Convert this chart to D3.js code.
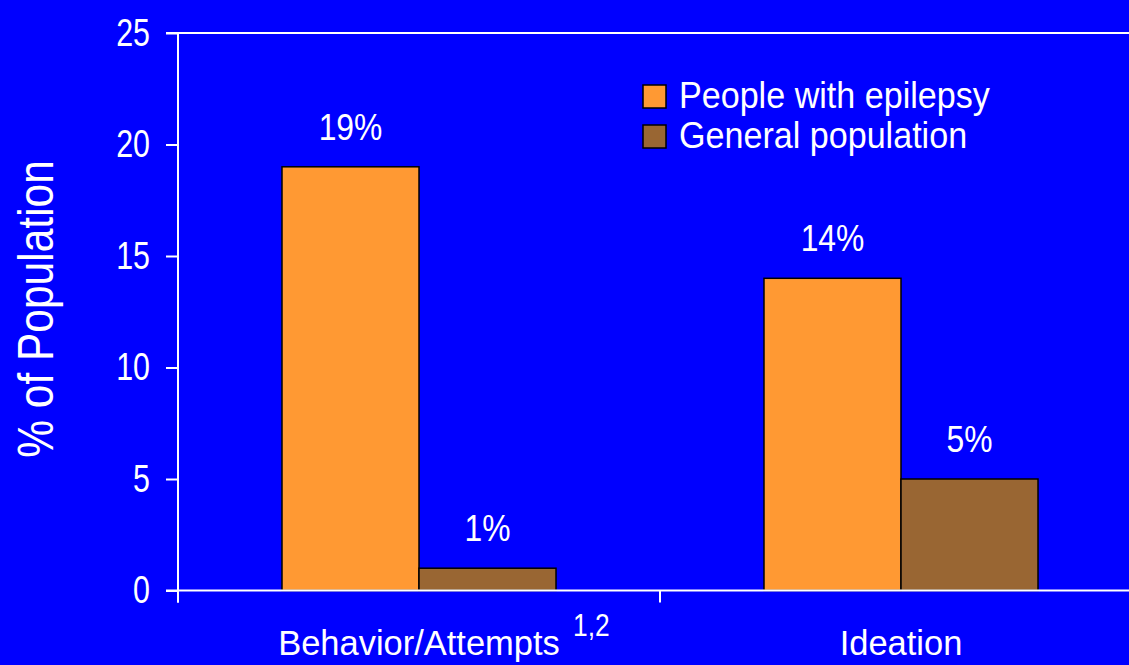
<!DOCTYPE html>
<html lang="en">
<head>
<meta charset="utf-8">
<title>suicidality in epilepsy</title>
<script src="https://cdn.jsdelivr.net/npm/d3@7"></script>
<style>
  html, body { margin: 0; padding: 0; background: #0000ff; }
  svg { display: block; }
  text { fill: #fff; font-family: "Liberation Sans", Arial, sans-serif; }
</style>
</head>
<body>
<svg id="chart" width="1129" height="665"></svg>
<script>
// data
var categories = ["Behavior/Attempts", "Ideation"];
var series = ["People with epilepsy", "General population"];
var epilepsy = [19, 14];
var general = [1, 5];
var yTicks = [0, 5, 10, 15, 20, 25];
var refs = ["1,2", ""];

var colors = ["#ff9933", "#996633"];

var W = 1129, H = 665;
var mLeft = 178, mTop = 33, mBottom = 590.5, bandW = 482;

// no narrow font installed: squeeze glyphs horizontally instead
function squeeze(sel, k) {
  sel.each(function() {
    var len = this.getComputedTextLength();
    d3.select(this).attr("textLength", len * k).attr("lengthAdjust", "spacingAndGlyphs");
  });
}

var svg = d3.select("#chart");
svg.append("rect").attr("width", W).attr("height", H).attr("fill", "#0000ff");

var y = d3.scaleLinear().domain([0, 25]).range([mBottom, mTop]);
var x = d3.scaleBand().domain(categories).range([mLeft, mLeft + bandW * categories.length]);
var xs = d3.scaleBand().domain(series).range([0, x.bandwidth()]).paddingOuter(0.759);

var rows = categories.map(function(c, i) {
  return { cat: c, vals: [epilepsy[i], general[i]], ref: refs[i] };
});

// frame top line
svg.append("line")
  .attr("x1", mLeft - 12).attr("x2", W + 20)
  .attr("y1", y(25)).attr("y2", y(25))
  .attr("stroke", "#fff").attr("stroke-width", 2);

// y axis
var yAxis = svg.append("g")
  .attr("transform", "translate(" + mLeft + ",0)")
  .call(d3.axisLeft(y).tickValues(yTicks).tickSize(12).tickSizeOuter(0).tickPadding(16));
yAxis.select(".domain").remove();
yAxis.selectAll(".tick line").attr("stroke", "#fff").attr("stroke-width", 2);
yAxis.attr("font-family", null).attr("font-size", null);
yAxis.selectAll(".tick text").attr("fill", "#fff").style("font-size", "38px").call(squeeze, 0.8);

svg.append("line")
  .attr("x1", mLeft).attr("x2", mLeft)
  .attr("y1", y(25)).attr("y2", mBottom + 12)
  .attr("stroke", "#fff").attr("stroke-width", 2);

// bars
var grp = svg.selectAll(".cat").data(rows).enter().append("g")
  .attr("class", "cat")
  .attr("transform", function(d) { return "translate(" + x(d.cat) + ",0)"; });

grp.selectAll("rect").data(function(d) { return d.vals; }).enter().append("rect")
  .attr("x", function(d, i) { return xs(series[i]); })
  .attr("y", function(d) { return y(d); })
  .attr("width", xs.bandwidth())
  .attr("height", function(d) { return y(0) - y(d); })
  .attr("fill", function(d, i) { return colors[i]; })
  .attr("stroke", "#000").attr("stroke-width", 1.5);

grp.selectAll(".val").data(function(d) { return d.vals; }).enter().append("text")
  .attr("class", "val")
  .attr("x", function(d, i) { return xs(series[i]) + xs.bandwidth() / 2; })
  .attr("y", function(d) { return y(d) - 27; })
  .attr("text-anchor", "middle")
  .style("font-size", "37px")
  .text(function(d) { return d + "%"; })
  .call(squeeze, 0.86);

// x axis
svg.append("line")
  .attr("x1", mLeft - 12).attr("x2", W + 20)
  .attr("y1", mBottom).attr("y2", mBottom)
  .attr("stroke", "#fff").attr("stroke-width", 2);

var bounds = categories.map(function(c) { return x(c); }).concat([x.range()[1]]);
svg.selectAll(".xtick").data(bounds).enter().append("line")
  .attr("class", "xtick")
  .attr("x1", function(d) { return d; }).attr("x2", function(d) { return d; })
  .attr("y1", mBottom).attr("y2", mBottom + 12)
  .attr("stroke", "#fff").attr("stroke-width", 2);

var catLab = svg.selectAll(".catlab").data(rows).enter().append("g")
  .attr("class", "catlab");
catLab.append("text")
  .attr("x", function(d) { return x(d.cat) + x.bandwidth() / 2; })
  .attr("y", 655)
  .attr("text-anchor", "middle")
  .style("font-size", "35px")
  .text(function(d) { return d.cat; })
  .call(squeeze, 0.985);
catLab.filter(function(d) { return d.ref; }).append("text")
  .attr("x", function(d) { return x(d.cat) + x.bandwidth() / 2 + 154; })
  .attr("y", 636)
  .style("font-size", "31px")
  .text(function(d) { return d.ref; })
  .call(squeeze, 0.85);

// y label
svg.append("text")
  .attr("transform", "translate(53,309) rotate(-90)")
  .attr("text-anchor", "middle")
  .style("font-size", "50px")
  .text("% of Population")
  .call(squeeze, 0.85);

// legend
var leg = svg.append("g").attr("transform", "translate(643,85)");
var li = leg.selectAll("g").data(series).enter().append("g")
  .attr("transform", function(d, i) { return "translate(0," + (i * 40) + ")"; });
li.append("rect")
  .attr("width", 23).attr("height", 23)
  .attr("fill", function(d, i) { return colors[i]; })
  .attr("stroke", "#000").attr("stroke-width", 1.5);
li.append("text")
  .attr("x", 36).attr("y", 23)
  .style("font-size", "36px")
  .text(function(d) { return d; })
  .call(squeeze, 0.947);
</script>
</body>
</html>
